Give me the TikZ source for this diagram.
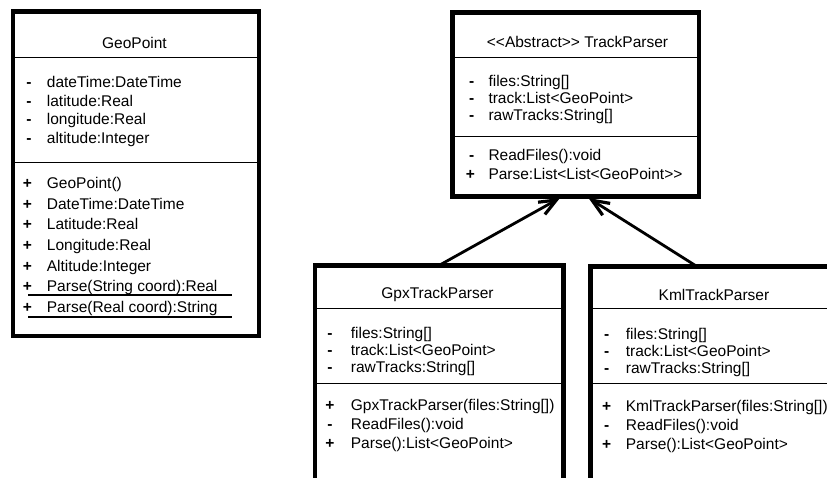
\documentclass[tikz,border=0pt]{standalone}
\usepackage{fontspec}
\setmainfont{Liberation Sans}
\usetikzlibrary{arrows.meta}

\tikzset{
  box/.style={draw, line width=4.5pt, inner sep=0pt, outer sep=0pt, anchor=north west},
  sepline/.style={line width=1.3pt},
  uline/.style={line width=1.8pt},
  txt/.style={inner sep=0pt, anchor=base west, font=\fontsize{15.5}{18}\selectfont},
  vis/.style={txt, anchor=base, font=\fontsize{15.5}{18}\selectfont\bfseries},
  ttl/.style={txt, anchor=base},
  inherit/.style={line width=2.8pt,
    -{Straight Barb[length=17pt,width=14pt,line width=3.2pt]}},
}

\begin{document}
\begin{tikzpicture}[x=1pt,y=-1pt]
\useasboundingbox (0,0) rectangle (827,477);
\clip (0,0) rectangle (827,477);

% ---------- GeoPoint ----------
\node[box, minimum width=246pt, minimum height=324.5pt] (geo) at (13,11.5) {};
\draw[sepline] ([yshift=-45.8pt]geo.north west) -- ([yshift=-45.8pt,xshift=2pt]geo.north east);
\draw[sepline] ([yshift=-151.2pt]geo.north west) -- ([yshift=-151.2pt,xshift=2pt]geo.north east);
\node[ttl] (geot) at (134.5,48.3) {GeoPoint};
\foreach \m/\t [count=\i] in {{-}/{dateTime:DateTime},{-}/{latitude:Real},
    {-}/{longitude:Real},{-}/{altitude:Integer}}{
  \node[vis] (geoam\i) at (29,{87.3+18.7*(\i-1)}) {\m};
  \node[txt] (geoa\i) at (46.7,{87.3+18.7*(\i-1)}) {\t};
}
\foreach \m/\t [count=\i] in {{+}/{GeoPoint()},{+}/{DateTime:DateTime},
    {+}/{Latitude:Real},{+}/{Longitude:Real},{+}/{Altitude:Integer},
    {+}/{Parse(String coord):Real},{+}/{Parse(Real coord):String}}{
  \node[vis] (geomm\i) at (27.5,{188.3+20.7*(\i-1)}) {\m};
  \node[txt] (geom\i) at (46.7,{188.3+20.7*(\i-1)}) {\t};
}
% static members are underlined
\draw[uline] (28,295.2) -- (232,295.2);
\draw[uline] (28,317.3) -- (232,317.3);

% ---------- TrackParser ----------
\node[box, minimum width=246.5pt, minimum height=184pt] (track) at (452.5,12.5) {};
\draw[sepline] ([yshift=-45.2pt]track.north west) -- ([yshift=-45.2pt,xshift=2pt]track.north east);
\draw[sepline] ([yshift=-124.2pt]track.north west) -- ([yshift=-124.2pt,xshift=2pt]track.north east);
\node[ttl] (trackt) at (577.5,47.3) {<\kern0pt<Abstract>\kern0pt> TrackParser};
\foreach \m/\t [count=\i] in {{-}/{files:String[]},{-}/{track:List<GeoPoint>},
    {-}/{rawTracks:String[]}}{
  \node[vis] (trackam\i) at (471.7,{86.3+17.1*(\i-1)}) {\m};
  \node[txt] (tracka\i) at (488.3,{86.3+17.1*(\i-1)}) {\t};
}
\node[vis] (trackmm1) at (471.7,160.6) {-};
\node[txt] (trackm1) at (488.3,160.6) {ReadFiles():void};
\node[vis] (trackmm2) at (470.5,179.9) {+};
\node[txt] (trackm2) at (488.3,179.9) {Parse:List<List<GeoPoint>\kern0pt>};

% ---------- GpxTrackParser ----------
\node[box, minimum width=248.5pt, minimum height=260pt] (gpx) at (315,265.3) {};
\draw[sepline] ([yshift=-43pt]gpx.north west) -- ([yshift=-43pt,xshift=2pt]gpx.north east);
\draw[sepline] ([yshift=-118pt]gpx.north west) -- ([yshift=-118pt,xshift=2pt]gpx.north east);
\node[ttl] (gpxt) at (437.5,298.8) {GpxTrackParser};
\foreach \m/\t [count=\i] in {{-}/{files:String[]},{-}/{track:List<GeoPoint>},
    {-}/{rawTracks:String[]}}{
  \node[vis] (gpxam\i) at (330,{338.6+17*(\i-1)}) {\m};
  \node[txt] (gpxa\i) at (350.7,{338.6+17*(\i-1)}) {\t};
}
\foreach \m/\t [count=\i] in {{+}/{GpxTrackParser(files:String[])},
    {-}/{ReadFiles():void},{+}/{Parse():List<GeoPoint>}}{
  \node[vis] (gpxmm\i) at (330,{410.6+19*(\i-1)}) {\m};
  \node[txt] (gpxm\i) at (350.7,{410.6+19*(\i-1)}) {\t};
}

% ---------- KmlTrackParser ----------
\node[box, minimum width=248.5pt, minimum height=260pt] (kml) at (590.5,266.5) {};
\draw[sepline] ([yshift=-42pt]kml.north west) -- ([yshift=-42pt,xshift=2pt]kml.north east);
\draw[sepline] ([yshift=-117pt]kml.north west) -- ([yshift=-117pt,xshift=2pt]kml.north east);
\node[ttl] (kmlt) at (714,300.3) {KmlTrackParser};
\foreach \m/\t [count=\i] in {{-}/{files:String[]},{-}/{track:List<GeoPoint>},
    {-}/{rawTracks:String[]}}{
  \node[vis] (kmlam\i) at (606.7,{339.5+17.2*(\i-1)}) {\m};
  \node[txt] (kmla\i) at (625.7,{339.5+17.2*(\i-1)}) {\t};
}
\foreach \m/\t [count=\i] in {{+}/{KmlTrackParser(files:String[])},
    {-}/{ReadFiles():void},{+}/{Parse():List<GeoPoint>}}{
  \node[vis] (kmlmm\i) at (606.7,{411.5+19*(\i-1)}) {\m};
  \node[txt] (kmlm\i) at (625.7,{411.5+19*(\i-1)}) {\t};
}

% ---------- generalisation ----------
\draw[inherit] (gpx.north) -- ([xshift=107.5pt,yshift=-1.5pt]track.south west);
\draw[inherit] ([xshift=106.5pt]kml.north west) -- ([xshift=136pt,yshift=-1.5pt]track.south west);
\end{tikzpicture}
\end{document}
